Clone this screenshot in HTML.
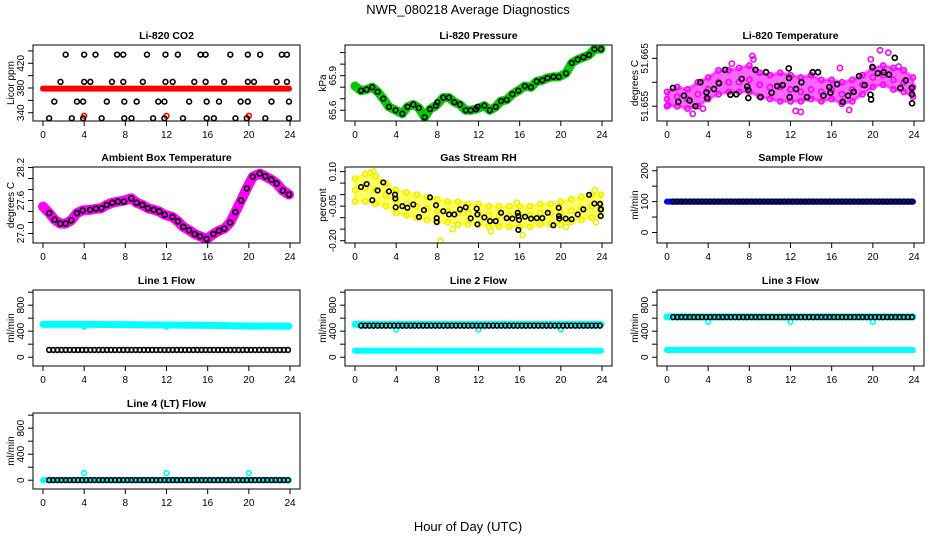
<!DOCTYPE html>
<html><head><meta charset="utf-8"><style>
html,body{margin:0;padding:0;background:#fff;}
svg{display:block;font-family:"Liberation Sans",sans-serif;}
</style></head><body>
<svg id="chart" width="936" height="540" viewBox="0 0 936 540" xmlns="http://www.w3.org/2000/svg">
<rect x="0" y="0" width="936" height="540" fill="#fff"/>
<text x="468" y="14" text-anchor="middle" font-size="13">NWR_080218  Average Diagnostics</text>
<text x="468" y="531" text-anchor="middle" font-size="13">Hour of Day (UTC)</text>
<g id="plots"></g>
</svg>
<script>
// ---------- data ----------
const xTickValues = [0,4,8,12,16,20,24];
const xTickLabels = ["0","4","8","12","16","20","24"];

// CO2
const co2BlackHours = [2.2,4,5.1,7.2,7.8,10.1,11.9,13.1,15.3,15.8,18.2,19.9,21.1,23.2,23.7,
 1.7,4.0,4.6,6.7,7.8,9.7,11.9,12.6,14.7,15.8,17.6,19.9,20.5,22.7,23.7,
 1.1,3.3,3.9,6.2,7.9,9.1,11.2,11.8,14.2,15.9,17.1,19.2,19.9,22.2,23.9,
 0.6,2.8,3.9,5.7,7.9,8.6,10.7,11.8,13.6,15.9,16.6,18.7,19.8,21.6,23.9];
const co2BlackValues = [434,434,434,434,434,434,434,434,434,434,434,434,434,434,434,
 390,390,390,390,390,390,390,390,390,390,390,390,390,390,390,
 358,358,358,358,358,358,358,358,358,358,358,358,358,358,358,
 331,331,331,331,331,331,331,331,331,331,331,331,331,331,331];
const co2RedHours = [0,23.9];
const co2RedValues = [379,379];
const co2RedOutHours = [4,12,20];
const co2RedOutValues = [335,335,335];

// Pressure
const presHours = [0.58,1.13,1.68,2.2,2.75,3.3,3.95,4.6,5.1,5.67,6.2,6.77,7.29,7.87,8.0,8.58,9.13,9.65,10.2,10.76,11.24,11.76,11.92,12.57,13.1,13.67,14.19,14.74,15.29,15.87,16.5,17.1,17.65,18.2,18.7,19.27,19.8,20.5,21.06,21.64,22.2,22.74,23.26,23.9];
const presValues = [65.77,65.78,65.80,65.76,65.70,65.63,65.60,65.57,65.63,65.65,65.62,65.54,65.61,65.64,65.67,65.71,65.71,65.67,65.65,65.60,65.60,65.61,65.63,65.64,65.60,65.63,65.68,65.69,65.74,65.77,65.81,65.80,65.85,65.86,65.88,65.89,65.89,65.92,66.01,66.04,66.06,66.08,66.13,66.13];
const presBandHours = [0,0.58,1.13,1.68,2.2,2.75,3.3,3.95,4.6,5.1,5.67,6.2,6.77,7.29,7.87,8.58,9.13,9.65,10.2,10.76,11.24,11.76,12.57,13.1,13.67,14.19,14.74,15.29,15.87,16.5,17.1,17.65,18.2,18.7,19.27,19.8,20.5,21.06,21.64,22.2,22.74,23.26,23.9];
const presBandValues = [65.81,65.77,65.78,65.80,65.76,65.70,65.63,65.60,65.57,65.63,65.65,65.62,65.54,65.61,65.64,65.71,65.71,65.67,65.65,65.60,65.60,65.61,65.64,65.60,65.63,65.68,65.69,65.74,65.77,65.81,65.80,65.85,65.86,65.88,65.89,65.89,65.92,66.01,66.04,66.06,66.08,66.13,66.13];

// Li-820 temperature
const tempHours = [0.58,1.1,1.65,2.2,2.76,3.24,3.83,3.89,4.57,5.05,5.64,6.16,6.74,7.26,7.8,7.9,7.9,8.6,9.1,9.62,10.17,10.7,11.24,11.83,11.86,11.92,12.54,13.06,13.6,14.16,14.67,15.2,15.78,15.88,16.52,17.07,17.59,18.14,18.66,19.21,19.77,19.83,19.96,20.48,21.06,21.57,22.13,22.68,23.2,23.78,23.81,23.81];
const tempValues = [51.6588,51.6559,51.6572,51.6562,51.6550,51.6600,51.6579,51.6567,51.6586,51.6598,51.6626,51.6574,51.6575,51.6607,51.6591,51.6584,51.6567,51.6626,51.6569,51.6621,51.6578,51.6592,51.6594,51.6629,51.6609,51.6569,51.6586,51.6600,51.6569,51.6621,51.6621,51.6572,51.6590,51.6578,51.6596,51.6559,51.6572,51.6580,51.6613,51.6594,51.6574,51.6564,51.6632,51.6619,51.6621,51.6616,51.6651,51.6588,51.6604,51.6588,51.6575,51.6556];
const tempBandHours = [0,1,2,3,4,5,6,7,8,9,10,11,12,13,14,15,16,17,18,19,20,21,22,23,23.9];
const tempBandMid = [51.6565,51.6570,51.6565,51.6575,51.6585,51.6600,51.6600,51.6600,51.6605,51.6595,51.6590,51.6590,51.6585,51.6580,51.6585,51.6580,51.6585,51.6575,51.6585,51.6595,51.6610,51.6615,51.6605,51.6600,51.6590];
const tempBandLo = [51.6550,51.6550,51.6545,51.6550,51.6565,51.6575,51.6580,51.6580,51.6580,51.6570,51.6565,51.6560,51.6560,51.6560,51.6565,51.6560,51.6565,51.6555,51.6560,51.6575,51.6590,51.6595,51.6585,51.6580,51.6570];
const tempBandHi = [51.6580,51.6590,51.6585,51.6600,51.6610,51.6625,51.6625,51.6630,51.6635,51.6620,51.6615,51.6620,51.6615,51.6610,51.6615,51.6605,51.6605,51.6600,51.6605,51.6615,51.6630,51.6635,51.6630,51.6625,51.6610];
const tempOutHours = [8.3,20.7,0.1,2.5,13,17.7,21.5,8.4,22.5,6.3,19.8,16.8,12.5,3.5];
const tempOutValues = [51.6655,51.6667,51.6552,51.6534,51.6538,51.6542,51.6662,51.6648,51.6633,51.6639,51.6648,51.6630,51.6540,51.6545];

// Ambient box temperature
const ambHours = [0.61,1.13,1.68,2.2,2.75,3.3,3.86,4.57,5.15,5.67,6.19,6.74,7.29,7.87,8.58,9.1,9.65,10.2,10.76,11.3,11.83,12.57,13.12,13.63,14.19,14.74,15.26,15.9,16.55,17.1,17.62,18.18,18.69,19.24,19.8,20.38,21.06,21.6,22.19,22.71,23.3,23.9];
const ambValues = [27.37,27.25,27.18,27.18,27.24,27.37,27.42,27.43,27.45,27.46,27.52,27.56,27.58,27.58,27.64,27.56,27.52,27.46,27.43,27.40,27.34,27.30,27.22,27.12,27.06,26.99,26.95,26.90,26.99,27.05,27.09,27.20,27.39,27.60,27.82,28.03,28.09,28.04,27.98,27.91,27.78,27.71];
const ambBandHours = [0,0.61,1.13,1.68,2.2,2.75,3.3,3.86,4.57,5.15,5.67,6.19,6.74,7.29,7.87,8.58,9.1,9.65,10.2,10.76,11.3,11.83,12.57,13.12,13.63,14.19,14.74,15.26,15.9,16.55,17.1,17.62,18.18,18.69,19.24,19.8,20.38,21.06,21.6,22.19,22.71,23.3,23.9];
const ambBandValues = [27.49,27.37,27.25,27.18,27.18,27.24,27.37,27.42,27.43,27.45,27.46,27.52,27.56,27.58,27.60,27.64,27.56,27.52,27.46,27.43,27.40,27.34,27.30,27.22,27.12,27.06,26.99,26.95,26.90,26.99,27.05,27.09,27.20,27.39,27.60,27.82,28.03,28.09,28.04,27.98,27.91,27.78,27.71];

// Gas stream RH
const rhHours = [0.58,1.13,1.68,2.2,2.75,3.3,3.89,3.92,3.95,4.6,5.09,5.67,6.22,6.7,7.29,7.87,7.94,7.94,8.58,9.13,9.65,10.2,10.76,11.24,11.82,11.89,11.89,12.57,13.12,13.67,14.19,14.74,15.29,15.81,15.87,15.87,15.94,16.52,17.1,17.66,18.2,18.73,19.27,19.79,19.82,19.85,20.47,21.05,21.64,22.19,22.74,23.26,23.81,23.87,23.87,23.9];
const rhValues = [0.033,0.046,-0.024,0.018,0.053,0.014,0.0,-0.017,-0.055,-0.05,-0.057,-0.043,-0.097,-0.067,-0.012,-0.046,-0.102,-0.119,-0.072,-0.086,-0.086,-0.064,-0.055,-0.103,-0.061,-0.086,-0.129,-0.099,-0.115,-0.115,-0.079,-0.102,-0.104,-0.079,-0.093,-0.153,-0.11,-0.096,-0.104,-0.102,-0.102,-0.079,-0.133,-0.057,-0.093,-0.104,-0.104,-0.107,-0.086,-0.064,-0.001,-0.039,-0.04,-0.064,-0.093,-0.064];
const rhBandHours = [0,1,2,3,4,5,6,7,8,9,10,11,12,13,14,15,16,17,18,19,20,21,22,23,23.9];
const rhBandMid = [0.02,0.03,0.02,0.0,-0.03,-0.04,-0.05,-0.06,-0.07,-0.07,-0.08,-0.08,-0.08,-0.09,-0.09,-0.09,-0.09,-0.09,-0.08,-0.08,-0.08,-0.07,-0.06,-0.05,-0.05];
const rhBandLo = [-0.03,-0.03,-0.04,-0.05,-0.08,-0.09,-0.10,-0.11,-0.12,-0.12,-0.13,-0.13,-0.13,-0.14,-0.14,-0.14,-0.14,-0.14,-0.13,-0.13,-0.13,-0.12,-0.11,-0.10,-0.09];
const rhBandHi = [0.07,0.09,0.08,0.05,0.02,0.01,0.0,-0.01,-0.02,-0.03,-0.03,-0.04,-0.04,-0.05,-0.05,-0.05,-0.05,-0.05,-0.04,-0.04,-0.03,-0.02,-0.01,0.0,0.0];
const rhOutHours = [1.8,8.3,13.2,16.3,20.5,23.4,23.3,15.7,1.5,9.5];
const rhOutValues = [0.10,-0.20,-0.16,-0.175,-0.14,-0.12,0.02,-0.035,0.095,-0.15];

// Flow panels
const flowHours = [0.6,1.0,1.4,1.8,2.2,2.6,3.0,3.4,3.8,4.2,4.6,5.0,5.4,5.8,6.2,6.6,7.0,7.4,7.8,8.2,8.6,9.0,9.4,9.8,10.2,10.6,11.0,11.4,11.8,12.2,12.6,13.0,13.4,13.8,14.2,14.6,15.0,15.4,15.8,16.2,16.6,17.0,17.4,17.8,18.2,18.6,19.0,19.4,19.8,20.2,20.6,21.0,21.4,21.8,22.2,22.6,23.0,23.4,23.8];
const sampleBlack = [100,100,100,100,100,100,100,100,100,100,100,100,100,100,100,100,100,100,100,100,100,100,100,100,100,100,100,100,100,100,100,100,100,100,100,100,100,100,100,100,100,100,100,100,100,100,100,100,100,100,100,100,100,100,100,100,100,100,100];
const line1Black = [112,112,112,112,112,112,112,112,112,112,112,112,112,112,112,112,112,112,112,112,112,112,112,112,112,112,112,112,112,112,112,112,112,112,112,112,112,112,112,112,112,112,112,112,112,112,112,112,112,112,112,112,112,112,112,112,112,112,112];
const line2Black = [485,485,485,485,485,485,485,485,485,485,485,485,485,485,485,485,485,485,485,485,485,485,485,485,485,485,485,485,485,485,485,485,485,485,485,485,485,485,485,485,485,485,485,485,485,485,485,485,485,485,485,485,485,485,485,485,485,485,485];
const line3Black = [617,617,617,617,617,617,617,617,617,617,617,617,617,617,617,617,617,617,617,617,617,617,617,617,617,617,617,617,617,617,617,617,617,617,617,617,617,617,617,617,617,617,617,617,617,617,617,617,617,617,617,617,617,617,617,617,617,617,617];
const line4Black = [2,2,2,2,2,2,2,2,2,2,2,2,2,2,2,2,2,2,2,2,2,2,2,2,2,2,2,2,2,2,2,2,2,2,2,2,2,2,2,2,2,2,2,2,2,2,2,2,2,2,2,2,2,2,2,2,2,2,2];
const bandHours = [0,4,8,12,16,20,23.9];
const sampleBlue = [100,100,100,100,100,100,100];
const line1CyanHi = [505,505,500,495,490,480,475];
const line2CyanHi = [505,505,505,505,505,505,505];
const line2CyanLo = [100,100,100,100,100,100,100];
const line3CyanHi = [620,620,620,620,620,620,620];
const line3CyanLo = [110,110,110,110,110,110,110];
const line4Cyan = [2,2,2,2,2,2,2];
const dipHours = [4,12,20];
const line1Dips = [470,470,470];
const line2Dips = [425,425,425];
const line3Dips = [545,545,545];
const line4Dips = [110,110,110];

// ---------- drawing ----------
const NS = "http://www.w3.org/2000/svg";
const COLX = [33,345,657], ROWY = [45,167,290,413], PW = 267, PH = 76;
const XMIN = -0.97, XMAX = 24.97;
const root = document.getElementById('plots');
function mk(tag, attrs, parent){ const e=document.createElementNS(NS,tag); for(const k in attrs) e.setAttribute(k,attrs[k]); (parent||root).appendChild(e); return e; }

function panel(cfg){
  const g = mk('g',{});
  
  
  const x0 = COLX[cfg.col], y0 = ROWY[cfg.row];
  const xs = h => x0 + (h - XMIN)/(XMAX - XMIN)*PW;
  const ys = v => y0 + PH - (v - cfg.ymin)/(cfg.ymax - cfg.ymin)*PH;
  const t = mk('text',{x:x0+PW/2,y:y0-6,'text-anchor':'middle','font-size':'10.5','font-weight':'bold'},g);
  t.textContent = cfg.title;
  
  
  const xa = mk('g',{},g);
  
  
  mk('line',{x1:xs(xTickValues[0]),x2:xs(xTickValues[xTickValues.length-1]),y1:y0+PH,y2:y0+PH,stroke:'#000','stroke-width':1},xa);
  xTickValues.forEach((v,i)=>{
    mk('line',{x1:xs(v),x2:xs(v),y1:y0+PH,y2:y0+PH+5,stroke:'#000','stroke-width':1},xa);
    const l = mk('text',{x:xs(v),y:y0+PH+17,'text-anchor':'middle','font-size':'10'},xa);
    l.textContent = xTickLabels[i];
    
    
  });
  const ya = mk('g',{},g);
  
  
  cfg.ticks.forEach(v=>{ mk('line',{x1:x0-5,x2:x0,y1:ys(v),y2:ys(v),stroke:'#000','stroke-width':1},ya); });
  cfg.labelVals.forEach((v,i)=>{
    const l = mk('text',{x:x0-9,y:ys(v),'text-anchor':'middle','font-size':'10',transform:`rotate(-90 ${x0-9} ${ys(v)})`},ya);
    l.textContent = cfg.labels[i];
    
    
  });
  const yt = mk('text',{x:x0-19,y:y0+PH/2,'text-anchor':'middle','font-size':'10',transform:`rotate(-90 ${x0-19} ${y0+PH/2})`},ya);
  yt.textContent = cfg.ylab;
  
  
  const cid = 'clip'+cfg.col+cfg.row;
  const cp = mk('clipPath',{id:cid},g); mk('rect',{x:x0,y:y0,width:PW,height:PH},cp);
  const plot = mk('g',{'clip-path':`url(#${cid})`},g);
  
  
  const api = {
    band(hs, vs, color, w, name){
      const p = mk('polyline',{points:hs.map((h,i)=>xs(h)+','+ys(vs[i])).join(' '),fill:'none',stroke:color,'stroke-width':w,'stroke-linecap':'round','stroke-linejoin':'round'},plot);
      
      
    },
    area(hs, lo, hi, color, name){
      const pts = hs.map((h,i)=>xs(h)+','+ys(hi[i])).concat(hs.map((h,i)=>xs(h)+','+ys(lo[i])).reverse());
      const p = mk('polygon',{points:pts.join(' '),fill:color,'fill-opacity':0.6,stroke:color,'stroke-opacity':0.6,'stroke-width':3,'stroke-linejoin':'round'},plot);
      
      
    },
    pts(hs, vs, color, name, r, sw){
      const pg = mk('g',{},plot);
      
      
      hs.forEach((h,i)=>{
        const c = mk('circle',{cx:xs(h),cy:ys(vs[i]),r:r||2.4,fill:'none',stroke:color,'stroke-width':sw||1.6},pg);
        
        
      });
    }
  };
  cfg.draw(api);
  const box = mk('rect',{x:x0,y:y0,width:PW,height:PH,fill:'none',stroke:'#000','stroke-width':1},g);
  
  
}

const flowTicks = [0,200,400,600,800,1000];
const flowLabelVals = [0,400,800];
const flowLabels = ["0","400","800"];

panel({name:'panel-co2',col:0,row:0,title:'Li-820 CO2',ylab:'Licor ppm',ymin:326.6,ymax:449.6,
  ticks:[340,360,380,400,420,440],labelVals:[340,380,420],labels:["340","380","420"],
  draw(a){ a.band(co2RedHours,co2RedValues,'#ff0000',6,'co2-red-series'); a.pts(co2RedOutHours,co2RedOutValues,'#ff0000','co2-red-outliers'); a.pts(co2BlackHours,co2BlackValues,'#000','co2-black-series'); }});
panel({name:'panel-pressure',col:1,row:0,title:'Li-820 Pressure',ylab:'kPa',ymin:65.507,ymax:66.166,
  ticks:[65.6,65.7,65.8,65.9,66.0,66.1],labelVals:[65.6,65.9],labels:["65.6","65.9"],
  draw(a){ a.band(presBandHours,presBandValues,'#00cc00',9,'pressure-green-band'); a.pts(presHours,presValues,'#000','pressure-black-series'); }});
panel({name:'panel-li820-temperature',col:2,row:0,title:'Li-820 Temperature',ylab:'degrees C',ymin:51.6519,ymax:51.6678,
  ticks:[51.655,51.660,51.665],labelVals:[51.655,51.665],labels:["51.655","51.665"],
  draw(a){ a.area(tempBandHours,tempBandLo,tempBandHi,'#ff00ff','temperature-magenta-band');
    a.pts(tempBandHours,tempBandMid,'#ff00ff','temperature-magenta-mid',2.6);
    a.pts(tempBandHours,tempBandHi,'#ff00ff','temperature-magenta-high',2.6);
    a.pts(tempBandHours,tempBandLo,'#ff00ff','temperature-magenta-low',2.6);
    a.pts(tempOutHours,tempOutValues,'#ff00ff','temperature-magenta-outliers',2.6);
    a.pts(tempHours,tempValues,'#000','temperature-black-series',2.5,1.7); }});
panel({name:'panel-ambient-box-temperature',col:0,row:1,title:'Ambient Box Temperature',ylab:'degrees C',ymin:26.827,ymax:28.21,
  ticks:[27.0,27.2,27.4,27.6,27.8,28.0,28.2],labelVals:[27.0,27.6,28.2],labels:["27.0","27.6","28.2"],
  draw(a){ a.band(ambBandHours,ambBandValues,'#ff00ff',10,'ambient-magenta-band'); a.pts(ambHours,ambValues,'#000','ambient-black-series',2.5,1.7); }});
panel({name:'panel-gas-stream-rh',col:1,row:1,title:'Gas Stream RH',ylab:'percent',ymin:-0.21,ymax:0.12,
  ticks:[-0.2,-0.15,-0.1,-0.05,0,0.05,0.1],labelVals:[-0.2,-0.05,0.1],labels:["-0.20","-0.05","0.10"],
  draw(a){ a.area(rhBandHours,rhBandLo,rhBandHi,'#ffff00','rh-yellow-band');
    a.pts(rhBandHours,rhBandMid,'#eeee00','rh-yellow-mid',2.6);
    a.pts(rhBandHours,rhBandHi,'#eeee00','rh-yellow-high',2.6);
    a.pts(rhBandHours,rhBandLo,'#eeee00','rh-yellow-low',2.6);
    a.pts(rhOutHours,rhOutValues,'#eeee00','rh-yellow-outliers',2.6);
    a.pts(rhHours,rhValues,'#000','rh-black-series',2.3,1.6); }});
panel({name:'panel-sample-flow',col:2,row:1,title:'Sample Flow',ylab:'ml/min',ymin:-34,ymax:212,
  ticks:[0,50,100,150,200],labelVals:[0,100,200],labels:["0","100","200"],
  draw(a){ a.band(bandHours,sampleBlue,'#0000ff',6,'sample-blue-band'); a.pts(flowHours,sampleBlack,'#000','sample-black-series'); }});
panel({name:'panel-line1-flow',col:0,row:2,title:'Line 1 Flow',ylab:'ml/min',ymin:-135,ymax:1033,
  ticks:flowTicks,labelVals:flowLabelVals,labels:flowLabels,
  draw(a){ a.band(bandHours,line1CyanHi,'#00ffff',7,'line1-cyan-band'); a.pts(dipHours,line1Dips,'#00ffff','line1-cyan-dips'); a.pts(flowHours,line1Black,'#000','line1-black-series'); }});
panel({name:'panel-line2-flow',col:1,row:2,title:'Line 2 Flow',ylab:'ml/min',ymin:-135,ymax:1033,
  ticks:flowTicks,labelVals:flowLabelVals,labels:flowLabels,
  draw(a){ a.band(bandHours,line2CyanHi,'#00ffff',7,'line2-cyan-band-high'); a.band(bandHours,line2CyanLo,'#00ffff',6,'line2-cyan-band-low'); a.pts(dipHours,line2Dips,'#00ffff','line2-cyan-dips'); a.pts(flowHours,line2Black,'#000','line2-black-series'); }});
panel({name:'panel-line3-flow',col:2,row:2,title:'Line 3 Flow',ylab:'ml/min',ymin:-135,ymax:1033,
  ticks:flowTicks,labelVals:flowLabelVals,labels:flowLabels,
  draw(a){ a.band(bandHours,line3CyanHi,'#00ffff',7,'line3-cyan-band-high'); a.band(bandHours,line3CyanLo,'#00ffff',6,'line3-cyan-band-low'); a.pts(dipHours,line3Dips,'#00ffff','line3-cyan-dips'); a.pts(flowHours,line3Black,'#000','line3-black-series'); }});
panel({name:'panel-line4-flow',col:0,row:3,title:'Line 4 (LT) Flow',ylab:'ml/min',ymin:-135,ymax:1033,
  ticks:flowTicks,labelVals:flowLabelVals,labels:flowLabels,
  draw(a){ a.band(bandHours,line4Cyan,'#00ffff',6,'line4-cyan-band'); a.pts(dipHours,line4Dips,'#00ffff','line4-cyan-dips'); a.pts(flowHours,line4Black,'#000','line4-black-series'); }});
</script>
</body></html>
